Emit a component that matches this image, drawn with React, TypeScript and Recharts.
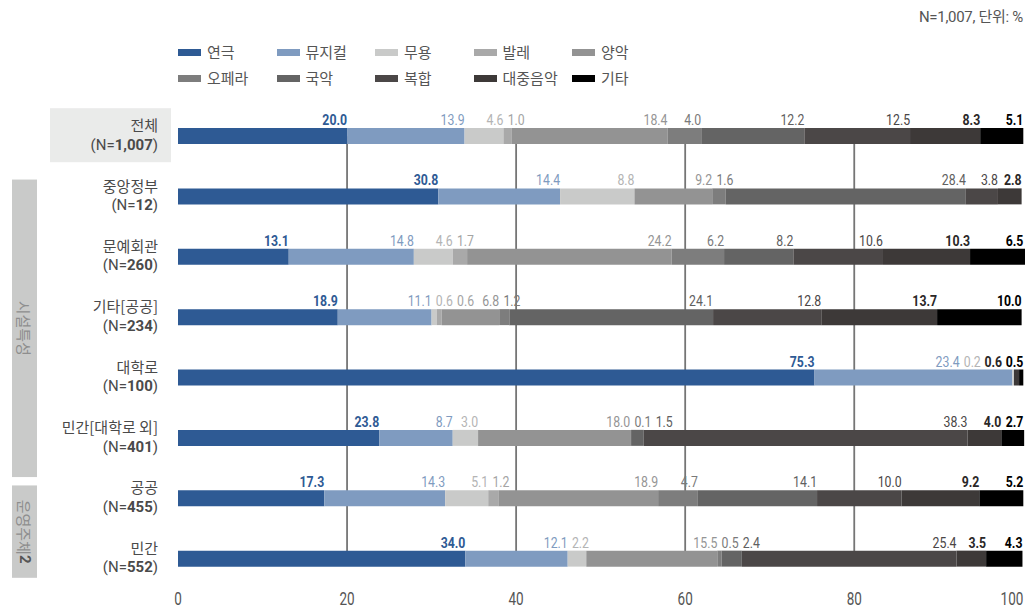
import { BarChart, Bar, XAxis, YAxis, CartesianGrid, Legend, LabelList } from "recharts";

// 행 (구분)
const ROWS = ["전체", "중앙정부", "문예회관", "기타[공공]", "대학로", "민간[대학로 외]", "공공", "민간"];
const ROW_N = ["1,007", "12", "260", "234", "100", "401", "455", "552"];

// 장르별 비율 (%)
const theater = [20.0, 30.8, 13.1, 18.9, 75.3, 23.8, 17.3, 34.0];
const musical = [13.9, 14.4, 14.8, 11.1, 23.4, 8.7, 14.3, 12.1];
const dance = [4.6, 8.8, 4.6, 0.6, 0.2, 3.0, 5.1, 2.2];
const ballet = [1.0, 0, 1.7, 0.6, 0, 0, 1.2, 0];
const western = [18.4, 9.2, 24.2, 6.8, 0, 18.0, 18.9, 15.5];
const opera = [4.0, 1.6, 6.2, 1.2, 0, 0.1, 4.7, 0.5];
const gugak = [12.2, 28.4, 8.2, 24.1, 0, 1.5, 14.1, 2.4];
const mixed = [12.5, 3.8, 10.6, 12.8, 0, 38.3, 10.0, 25.4];
const popular = [8.3, 2.8, 10.3, 13.7, 0.6, 4.0, 9.2, 3.5];
const other = [5.1, 0, 6.5, 10.0, 0.5, 2.7, 5.2, 4.3];

const X_TICKS = [0, 20, 40, 60, 80, 100];
const GRID_VALUES = [20, 40, 60, 80];

// 좌측 구분 박스
const GROUPS = [
  { label: "시설특성", note: "", from: 1, to: 5, padTop: 17, padBottom: 39 },
  { label: "운영주체", note: "2", from: 6, to: 7, padTop: 13, padBottom: 19 },
];

const SERIES = [
  { key: "theater", name: "연극", values: theater, fill: "#2e5a94", text: "#2e5a94", bold: true },
  { key: "musical", name: "뮤지컬", values: musical, fill: "#7f9bc0", text: "#7f9bc0", bold: false },
  { key: "dance", name: "무용", values: dance, fill: "#c9cac9", text: "#b4b4b4", bold: false },
  { key: "ballet", name: "발레", values: ballet, fill: "#a9a9a9", text: "#a4a4a4", bold: false },
  { key: "western", name: "양악", values: western, fill: "#939393", text: "#959595", bold: false },
  { key: "opera", name: "오페라", values: opera, fill: "#7d7d7d", text: "#7a7a7a", bold: false },
  { key: "gugak", name: "국악", values: gugak, fill: "#646464", text: "#606060", bold: false },
  { key: "mixed", name: "복합", values: mixed, fill: "#4b4747", text: "#4a4646", bold: false },
  { key: "popular", name: "대중음악", values: popular, fill: "#3d3938", text: "#2a2727", bold: true },
  { key: "other", name: "기타", values: other, fill: "#000000", text: "#000000", bold: true },
];

const data = ROWS.map((name, i) => {
  const row: Record<string, any> = { name, n: ROW_N[i] };
  SERIES.forEach((s) => (row[s.key] = s.values[i]));
  return row;
});

const W = 1029;
const H = 612;
const MARGIN = { top: 106, right: 4, bottom: 0, left: 0 };
const Y_AXIS_W = 178;
const X_AXIS_H = 23;
const PLOT_W = W - MARGIN.left - MARGIN.right - Y_AXIS_W;
const PLOT_H = H - MARGIN.top - MARGIN.bottom - X_AXIS_H;
const BAND = PLOT_H / ROWS.length;
const BAR_SIZE = 16;
const ROW_LABEL_X = 158;

const KR = "'Noto Sans CJK KR', 'Noto Sans', sans-serif";
const NUM = "Roboto, 'Noto Sans', sans-serif";

// 라벨 겹침 방지: 세그먼트 끝 기준 오른쪽 정렬, 겹치면 밀어냄
const PX_PER_UNIT = PLOT_W / 100;
const LABEL_GAP = 4;
const labelWidth = (s: string) => [...s].reduce((w, c) => w + (c === "." ? 3.3 : 7.0), 0);

const labelShift = ROWS.map((_, r) => {
  let cum = 0;
  const items: { key: string; w: number; px: number; end: number }[] = [];
  SERIES.forEach((s) => {
    const v = s.values[r];
    cum += v;
    if (v > 0) items.push({ key: s.key, w: labelWidth(v.toFixed(1)), px: cum * PX_PER_UNIT, end: cum });
  });
  for (let i = 1; i < items.length; i++) {
    items[i].px = Math.max(items[i].px, items[i - 1].px + LABEL_GAP + items[i].w);
  }
  const last = items.length - 1;
  items[last].px = Math.min(items[last].px, 100 * PX_PER_UNIT);
  for (let i = last - 1; i >= 0; i--) {
    items[i].px = Math.min(items[i].px, items[i + 1].px - items[i + 1].w - LABEL_GAP);
  }
  const out: Record<string, number> = {};
  items.forEach((it) => (out[it.key] = it.px / PX_PER_UNIT - it.end));
  return out;
});

const makeLabel = (s: (typeof SERIES)[number]) => (props: any) => {
  const value = Number(props.value);
  if (!value) return null;
  const x = Number(props.x);
  const y = Number(props.y);
  const width = Number(props.width);
  // 0 값이 빠지면 index가 어긋나므로 막대 위치로 행을 찾음
  const row = Math.round((y + BAR_SIZE / 2 - MARGIN.top - BAND / 2) / BAND);
  const ppu = width / value;
  const right = x + width + (labelShift[row]?.[s.key] ?? 0) * ppu;
  return (
    <text
      transform={`translate(${right},${y - 3}) scale(0.82,1)`}
      textAnchor="end"
      fontFamily={NUM}
      fontSize={15}
      fontWeight={s.bold ? 700 : 400}
      fill={s.text}
    >
      {value.toFixed(1)}
    </text>
  );
};

function RowTick(props: any) {
  const { y, payload } = props;
  const i = ROWS.indexOf(payload.value);
  const group = GROUPS.find((g) => g.from === i);
  const groupH = group ? (group.to - group.from) * BAND + group.padTop + group.padBottom : 0;
  return (
    <g>
      {i === 0 && <rect x={50} y={y - 28} width={121} height={54} fill="#eaebea" />}
      {group && (
        <g>
          <rect x={12} y={y - group.padTop} width={25} height={groupH} fill="#c9cac9" />
          <text
            transform={`translate(24.5,${y - group.padTop + groupH / 2}) rotate(90)`}
            textAnchor="middle"
            dominantBaseline="central"
            fontFamily={KR}
            fontSize={15}
            fill="#8e8e8e"
          >
            {group.label}
            {group.note && (
              <tspan fontFamily={NUM} fontWeight={700} fill="#555">
                {group.note}
              </tspan>
            )}
          </text>
        </g>
      )}
      <text x={ROW_LABEL_X} y={y - 5} textAnchor="end" fontFamily={KR} fontSize={15} fill="#4a4a4a">
        {payload.value}
      </text>
      <text x={ROW_LABEL_X} y={y + 13.5} textAnchor="end" fontFamily={NUM} fontSize={15} fill="#4a4a4a">
        (N=<tspan fontWeight={700}>{ROW_N[i]}</tspan>)
      </text>
    </g>
  );
}

function ValueTick(props: any) {
  const { x, y, payload } = props;
  const isLast = payload.value === X_TICKS[X_TICKS.length - 1];
  return (
    <text
      transform={`translate(${x},${y + 14}) scale(0.75,1)`}
      textAnchor={isLast ? "end" : "middle"}
      fontFamily={NUM}
      fontSize={18}
      fill="#555"
    >
      {payload.value}
    </text>
  );
}

function LegendBox() {
  return (
    <div style={{ display: "grid", gridTemplateColumns: "repeat(5, 98.5px)", rowGap: 6 }}>
      {SERIES.map((s) => (
        <div key={s.key} style={{ display: "flex", alignItems: "center", height: 20 }}>
          <span style={{ display: "inline-block", width: 23, height: 7, background: s.fill, marginRight: 6 }} />
          <span style={{ fontFamily: KR, fontSize: 15, color: "#555", lineHeight: "20px" }}>{s.name}</span>
        </div>
      ))}
    </div>
  );
}

export default function App() {
  return (
    <div style={{ position: "absolute", left: 0, top: 0, width: W, height: H, background: "#fff" }}>
      <div
        style={{
          position: "absolute",
          top: 5,
          right: 6,
          fontFamily: NUM,
          fontSize: 15,
          color: "#555",
          letterSpacing: -0.3,
          zIndex: 2,
        }}
      >
        N=1,007, <span style={{ fontFamily: KR }}>단위</span>: %
      </div>
      <BarChart width={W} height={H} data={data} layout="vertical" margin={MARGIN} barSize={BAR_SIZE}>
        {/* 세로 기준선: 첫 막대 중앙~마지막 막대 중앙, 막대 뒤에 */}
        <CartesianGrid
          horizontal={false}
          verticalValues={GRID_VALUES}
          y={MARGIN.top + BAND / 2}
          height={(ROWS.length - 1) * BAND}
          stroke="#757575"
          strokeWidth={1.8}
          strokeOpacity={1}
        />
        <XAxis
          type="number"
          domain={[0, 100]}
          ticks={X_TICKS}
          interval={0}
          axisLine={false}
          tickLine={false}
          tickSize={0}
          height={X_AXIS_H}
          tick={<ValueTick />}
        />
        <YAxis
          type="category"
          dataKey="name"
          width={Y_AXIS_W}
          axisLine={false}
          tickLine={false}
          interval={0}
          tick={<RowTick />}
        />
        <Legend
          layout="vertical"
          verticalAlign="middle"
          align="center"
          wrapperStyle={{ top: 42, left: 178, width: 500, height: 50 }}
          content={() => <LegendBox />}
        />
        {SERIES.map((s) => (
          <Bar key={s.key} dataKey={s.key} name={s.name} stackId="a" fill={s.fill} isAnimationActive={false}>
            <LabelList dataKey={s.key} content={makeLabel(s)} />
          </Bar>
        ))}
      </BarChart>
    </div>
  );
}
